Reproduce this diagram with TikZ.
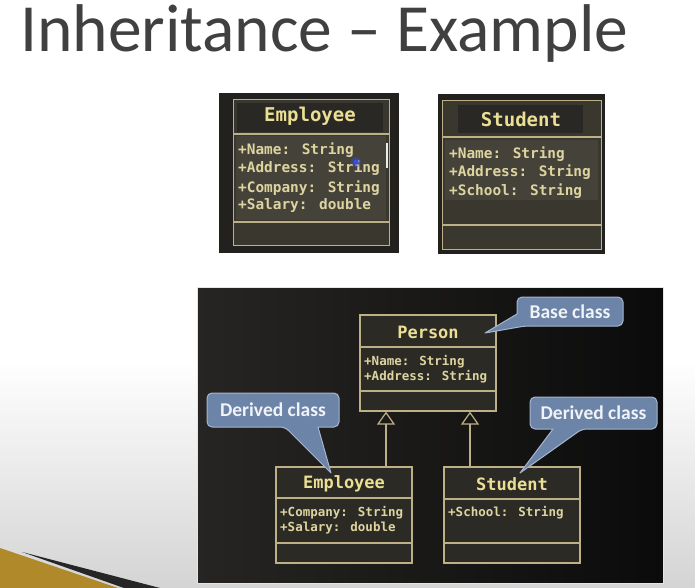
\documentclass[tikz,border=0pt]{standalone}
\usepackage{fontspec}
\setmainfont{Carlito}
\newfontfamily\monofont{DejaVu Sans Mono}
\usetikzlibrary{arrows.meta,shadings}
\definecolor{titlegray}{HTML}{404040}
\definecolor{bggray}{HTML}{D4D4D4}
\definecolor{goldwedge}{HTML}{B08A2A}
\definecolor{framedark}{HTML}{22211E}
\definecolor{topfill}{HTML}{3A372F}
\definecolor{headdark}{HTML}{2A2824}
\definecolor{attrfill}{HTML}{45423A}
\definecolor{tan}{HTML}{BDAF86}
\definecolor{yel}{HTML}{EADF94}
\definecolor{attryel}{HTML}{DED4A0}
\definecolor{panelL}{HTML}{262523}
\definecolor{panelR}{HTML}{0B0B0B}
\definecolor{boxfill}{HTML}{2C2A25}
\definecolor{cfill}{HTML}{6C84A7}
\definecolor{cedge}{HTML}{A7B6CC}
\definecolor{ctext}{HTML}{F0F3F8}
\definecolor{cursorblue}{HTML}{3A4FD8}
\tikzset{
  topbox/.style={draw=tan, line width=1.4pt, fill=topfill, inner sep=0, anchor=north west},
  umlbox/.style={draw=tan, line width=1.2pt, fill=boxfill, inner sep=0},
  sepline/.style={draw=tan, line width=1.2pt},
  tophead/.style={font=\monofont\bfseries\fontsize{19}{19}\selectfont, text=yel, inner sep=0},
  topattr/.style={font=\monofont\bfseries\fontsize{14.4}{14.4}\selectfont, text=attryel, inner sep=0, anchor=west},
  bothead/.style={font=\monofont\bfseries\fontsize{17}{17}\selectfont, text=yel, inner sep=0},
  botattr/.style={font=\monofont\bfseries\fontsize{12.5}{12.5}\selectfont, text=attryel, inner sep=0, anchor=west},
  callout/.style={fill=cfill, draw=cedge, line width=1pt, line join=round},
  callouttext/.style={font=\bfseries\fontsize{19.5}{19.5}\selectfont, text=ctext, inner sep=0},
  inh/.style={draw=tan, line width=1.2pt, -{Triangle[open, length=13pt, width=18pt, line width=1.2pt]}}
}
\begin{document}
\begin{tikzpicture}[x=1pt,y=-1pt]
\useasboundingbox (0,0) rectangle (695,588);
\fill[white] (0,0) rectangle (695,588);
\shade[top color=white, bottom color=bggray] (0,360) rectangle (695,588);
% bottom-left decoration
\fill[black!85] (22,552) -- (160,588) -- (124,588) -- cycle;
\fill[goldwedge] (0,548) -- (118,588) -- (0,588) -- cycle;

% title
\node[anchor=base west, inner sep=0, text=titlegray, font=\fontsize{67.5}{67.5}\selectfont] (title) at (20,52) {Inheritance – Example};

% ---- top Employee (screenshot) ----
\fill[framedark] (219,93) rectangle (399,253);
\node[topbox, minimum width=156pt, minimum height=146pt] (emp1) at (233,99) {};
\fill[headdark] (237,103) rectangle (383,132);
\fill[attrfill] (236,136) rectangle (386,220);
\draw[sepline] (emp1.west |- 0,134) -- (emp1.east |- 0,134);
\draw[sepline] (emp1.west |- 0,222) -- (emp1.east |- 0,222);
\node[tophead] (emp1title) at (310,116) {Employee};
\node[topattr] (emp1a) at (238,150) {+Name: String};
\node[topattr] (emp1b) at (238,168) {+Address: String};
\node[topattr] (emp1c) at (238,188) {+Company: String};
\node[topattr] (emp1d) at (238,206) {+Salary: double};
\draw[white!85!gray, line width=1.2pt] (387,143) -- (387,168);
\fill[cursorblue, opacity=0.35] (356,162) circle (5.5);
\fill[cursorblue] (356,162) circle (2.6);

% ---- top Student (screenshot) ----
\fill[framedark] (438,94) rectangle (605,254);
\node[topbox, minimum width=159pt, minimum height=149pt] (stu1) at (442,100) {};
\fill[headdark] (458,105) rectangle (583,133);
\fill[attrfill] (445,140) rectangle (598,200);
\draw[sepline] (stu1.west |- 0,137) -- (stu1.east |- 0,137);
\draw[sepline] (stu1.west |- 0,225) -- (stu1.east |- 0,225);
\node[tophead] (stu1title) at (521,119) {Student};
\node[topattr] (stu1a) at (449,154) {+Name: String};
\node[topattr] (stu1b) at (449,172) {+Address: String};
\node[topattr] (stu1c) at (449,191) {+School: String};

% ---- bottom panel ----
\shade[left color=panelL, right color=panelR] (197,287) rectangle (663,583);
\draw[white!80!gray, line width=0.6pt] (197,287) rectangle (663,583);

% Person
\node[umlbox, minimum width=136pt, minimum height=96pt] (person) at (428,363) {};
\draw[sepline] (person.west |- 0,347) -- (person.east |- 0,347);
\draw[sepline] (person.west |- 0,391) -- (person.east |- 0,391);
\node[bothead] (persontitle) at (428,332) {Person};
\node[botattr] (persona) at (364,362) {+Name: String};
\node[botattr] (personb) at (364,377) {+Address: String};

% Employee
\node[umlbox, minimum width=136pt, minimum height=96pt] (emp2) at (344,515) {};
\draw[sepline] (emp2.west |- 0,498) -- (emp2.east |- 0,498);
\draw[sepline] (emp2.west |- 0,543) -- (emp2.east |- 0,543);
\node[bothead] (emp2title) at (344,484) {Employee};
\node[botattr] (emp2a) at (280,513) {+Company: String};
\node[botattr] (emp2b) at (280,528) {+Salary: double};

% Student
\node[umlbox, minimum width=136pt, minimum height=96pt] (stu2) at (512,515) {};
\draw[sepline] (stu2.west |- 0,499) -- (stu2.east |- 0,499);
\draw[sepline] (stu2.west |- 0,543) -- (stu2.east |- 0,543);
\node[bothead] (stu2title) at (512,484) {Student};
\node[botattr] (stu2a) at (448,513) {+School: String};

% inheritance arrows
\draw[inh] (emp2.north -| 386,0) -- (person.south -| 386,0);
\draw[inh] (stu2.north -| 470,0) -- (person.south -| 470,0);

% callouts
\draw[callout] (485,333) -- (517,314) [rounded corners=5pt] -- (517,297) -- (623,297) -- (623,326) -- (525,326) [sharp corners] -- cycle;
\node[callouttext] (basecl) at (570,311.5) {Base class};

\draw[callout] (331,473) -- (318,427) [rounded corners=5pt] -- (339,427) -- (339,393) -- (207,393) -- (207,427) -- (285,427) [sharp corners] -- cycle;
\node[callouttext] (dercl1) at (273,410) {Derived class};

\draw[callout] (520,473) -- (553,429) [rounded corners=5pt] -- (530,429) -- (530,397) -- (657,397) -- (657,429) -- (582,429) [sharp corners] -- cycle;
\node[callouttext] (dercl2) at (593.5,413) {Derived class};
\end{tikzpicture}
\end{document}
